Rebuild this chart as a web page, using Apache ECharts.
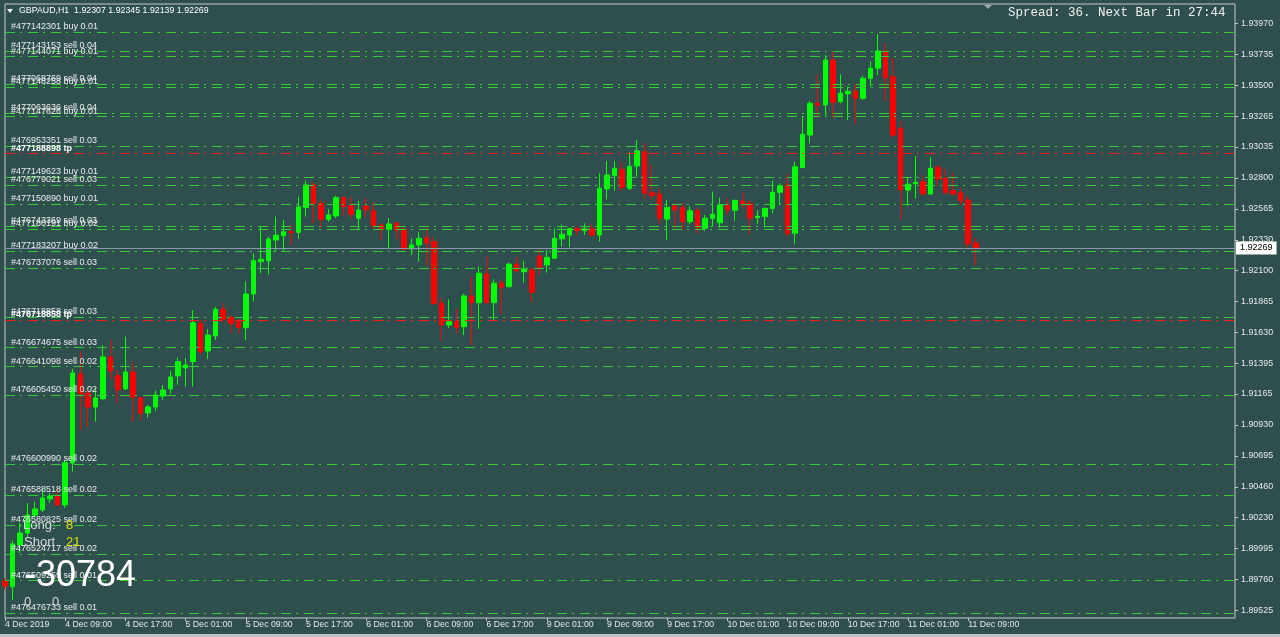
<!DOCTYPE html>
<html><head><meta charset="utf-8">
<script src="https://cdn.jsdelivr.net/npm/echarts@6/dist/echarts.min.js"></script>
<style>html,body{margin:0;padding:0;background:#2f4f4f;}#c{width:1280px;height:637px;}</style>
</head><body><div id="c"></div>
<script>
// ---------- data ----------
const symbolName = 'GBPAUD,H1';
const lastBarOHLC = ['1.92307', '1.92345', '1.92139', '1.92269'];
const spreadText = 'Spread: 36. Next Bar in 27:44';
const longCount = 8;
const shortCount = 21;
const profitText = '-30784';

const xTickBars = [0, 8, 16, 24, 32, 40, 48, 56, 64, 72, 80, 88, 96, 104, 112, 120, 128];
const xTickLabels = ['4 Dec 2019', '4 Dec 09:00', '4 Dec 17:00', '5 Dec 01:00', '5 Dec 09:00', '5 Dec 17:00',
  '6 Dec 01:00', '6 Dec 09:00', '6 Dec 17:00', '9 Dec 01:00', '9 Dec 09:00', '9 Dec 17:00',
  '10 Dec 01:00', '10 Dec 09:00', '10 Dec 17:00', '11 Dec 01:00', '11 Dec 09:00'];
const yTickLabels = ['1.93970', '1.93735', '1.93500', '1.93265', '1.93035', '1.92800', '1.92565', '1.92330',
  '1.92100', '1.91865', '1.91630', '1.91395', '1.91165', '1.90930', '1.90695', '1.90460', '1.90230',
  '1.89995', '1.89760', '1.89525'];

const open = [1.89748, 1.89704, 1.90020, 1.90111, 1.90247, 1.90285, 1.90369, 1.90391, 1.90323, 1.90641,
  1.91315, 1.91171, 1.91065, 1.91128, 1.91444, 1.91302, 1.91202, 1.91330, 1.91136, 1.91020,
  1.91065, 1.91148, 1.91202, 1.91300, 1.91360, 1.91408, 1.91698, 1.91489, 1.91603, 1.91805,
  1.91742, 1.91711, 1.91665, 1.91921, 1.92165, 1.92173, 1.92329, 1.92362, 1.92392, 1.92388,
  1.92577, 1.92746, 1.92607, 1.92486, 1.92511, 1.92650, 1.92589, 1.92494, 1.92587, 1.92549,
  1.92443, 1.92410, 1.92456, 1.92410, 1.92261, 1.92292, 1.92347, 1.92317, 1.91850, 1.91686,
  1.91711, 1.91673, 1.91906, 1.91855, 1.92072, 1.91855, 1.92002, 1.91976, 1.92146, 1.92089,
  1.92102, 1.92208, 1.92140, 1.92191, 1.92339, 1.92367, 1.92415, 1.92400, 1.92415, 1.92367,
  1.92716, 1.92816, 1.92864, 1.92721, 1.92890, 1.92998, 1.92687, 1.92678, 1.92488, 1.92587,
  1.92574, 1.92468, 1.92551, 1.92418, 1.92494, 1.92460, 1.92594, 1.92554, 1.92625, 1.92607,
  1.92498, 1.92506, 1.92569, 1.92690, 1.92746, 1.92380, 1.92877, 1.93124, 1.93364, 1.93351,
  1.93692, 1.93376, 1.93437, 1.93455, 1.93402, 1.93554, 1.93630, 1.93760, 1.93565, 1.93175,
  1.92708, 1.92756, 1.92771, 1.92678, 1.92880, 1.92797, 1.92703, 1.92687, 1.92632, 1.92307];
const high = [1.89770, 1.90053, 1.90187, 1.90338, 1.90346, 1.90452, 1.90414, 1.90452, 1.90664, 1.91353,
  1.91484, 1.91194, 1.91209, 1.91534, 1.91572, 1.91345, 1.91597, 1.91408, 1.91143, 1.91080,
  1.91189, 1.91232, 1.91338, 1.91438, 1.91436, 1.91799, 1.91724, 1.91656, 1.91824, 1.91850,
  1.91762, 1.91732, 1.92014, 1.92229, 1.92435, 1.92354, 1.92506, 1.92481, 1.92443, 1.92657,
  1.92778, 1.92768, 1.92637, 1.92564, 1.92665, 1.92662, 1.92657, 1.92625, 1.92645, 1.92619,
  1.92458, 1.92494, 1.92468, 1.92425, 1.92342, 1.92392, 1.92425, 1.92354, 1.91888, 1.91880,
  1.91807, 1.91921, 1.92047, 1.92127, 1.92208, 1.92032, 1.92027, 1.92158, 1.92203, 1.92173,
  1.92117, 1.92254, 1.92254, 1.92418, 1.92448, 1.92420, 1.92430, 1.92456, 1.92450, 1.92834,
  1.92927, 1.92927, 1.92922, 1.92993, 1.93086, 1.93061, 1.92897, 1.92721, 1.92632, 1.92609,
  1.92609, 1.92587, 1.92572, 1.92519, 1.92695, 1.92650, 1.92645, 1.92632, 1.92690, 1.92632,
  1.92556, 1.92574, 1.92778, 1.92759, 1.92827, 1.92922, 1.93268, 1.93382, 1.93584, 1.93730,
  1.93755, 1.93584, 1.93490, 1.93508, 1.93573, 1.93680, 1.93889, 1.93818, 1.93705, 1.93230,
  1.92804, 1.92965, 1.92821, 1.92956, 1.92897, 1.92867, 1.92839, 1.92721, 1.92662, 1.92345];
const low = [1.89680, 1.89604, 1.89960, 1.90081, 1.90225, 1.90270, 1.90338, 1.90315, 1.90300, 1.90575,
  1.90891, 1.90914, 1.90954, 1.91118, 1.91277, 1.91098, 1.91194, 1.90954, 1.90967, 1.90982,
  1.91035, 1.91118, 1.91164, 1.91232, 1.91219, 1.91219, 1.91459, 1.91429, 1.91572, 1.91709,
  1.91625, 1.91623, 1.91572, 1.91862, 1.92077, 1.92070, 1.92241, 1.92241, 1.92292, 1.92342,
  1.92506, 1.92456, 1.92418, 1.92468, 1.92496, 1.92511, 1.92486, 1.92405, 1.92501, 1.92410,
  1.92329, 1.92267, 1.92335, 1.92254, 1.92216, 1.92165, 1.92140, 1.91837, 1.91567, 1.91661,
  1.91623, 1.91610, 1.91534, 1.91656, 1.91845, 1.91724, 1.91769, 1.91970, 1.92087, 1.92006,
  1.91862, 1.92065, 1.92082, 1.92186, 1.92279, 1.92274, 1.92367, 1.92367, 1.92354, 1.92317,
  1.92637, 1.92703, 1.92700, 1.92708, 1.92809, 1.92640, 1.92632, 1.92448, 1.92329, 1.92418,
  1.92405, 1.92450, 1.92380, 1.92398, 1.92430, 1.92423, 1.92519, 1.92475, 1.92569, 1.92373,
  1.92450, 1.92423, 1.92532, 1.92594, 1.92354, 1.92297, 1.92875, 1.93061, 1.93258, 1.93268,
  1.93255, 1.93364, 1.93238, 1.93208, 1.93389, 1.93490, 1.93578, 1.93382, 1.93104, 1.92481,
  1.92589, 1.92645, 1.92670, 1.92670, 1.92740, 1.92675, 1.92670, 1.92594, 1.92271, 1.92139];
const close = [1.89710, 1.90028, 1.90111, 1.90247, 1.90293, 1.90376, 1.90391, 1.90323, 1.90643, 1.91323,
  1.91164, 1.91065, 1.91133, 1.91444, 1.91338, 1.91194, 1.91330, 1.91141, 1.91017, 1.91065,
  1.91156, 1.91194, 1.91292, 1.91408, 1.91383, 1.91703, 1.91484, 1.91610, 1.91805, 1.91729,
  1.91698, 1.91666, 1.91921, 1.92173, 1.92183, 1.92337, 1.92365, 1.92392, 1.92385, 1.92581,
  1.92746, 1.92607, 1.92486, 1.92519, 1.92650, 1.92582, 1.92524, 1.92556, 1.92556, 1.92438,
  1.92410, 1.92450, 1.92405, 1.92259, 1.92292, 1.92342, 1.92304, 1.91850, 1.91686, 1.91711,
  1.91668, 1.91906, 1.91855, 1.92077, 1.91855, 1.92002, 1.91971, 1.92146, 1.92097, 1.92110,
  1.91933, 1.92123, 1.92198, 1.92342, 1.92373, 1.92415, 1.92400, 1.92415, 1.92367, 1.92721,
  1.92821, 1.92872, 1.92728, 1.92887, 1.93005, 1.92683, 1.92666, 1.92494, 1.92577, 1.92556,
  1.92468, 1.92551, 1.92423, 1.92494, 1.92524, 1.92594, 1.92556, 1.92630, 1.92600, 1.92494,
  1.92509, 1.92569, 1.92690, 1.92740, 1.92380, 1.92884, 1.93130, 1.93364, 1.93351, 1.93692,
  1.93372, 1.93440, 1.93455, 1.93402, 1.93554, 1.93630, 1.93760, 1.93558, 1.93124, 1.92708,
  1.92751, 1.92766, 1.92678, 1.92872, 1.92789, 1.92690, 1.92678, 1.92627, 1.92299, 1.92269];

const orderLabels = ['#477142301 buy 0.01', '#477143153 sell 0.04', '#477144071 buy 0.01',
  '#477068769 sell 0.04', '#477148258 buy 0.01', '#477063636 sell 0.04', '#477147626 buy 0.01',
  '#476953351 sell 0.03', '#477188898 tp', '#477149623 buy 0.01', '#476779021 sell 0.03',
  '#477150890 buy 0.01', '#476743369 sell 0.03', '#477180191 buy 0.02', '#477183207 buy 0.02',
  '#476737076 sell 0.03', '#476718858 sell 0.03', '#476718858 tp', '#476674675 sell 0.03',
  '#476641098 sell 0.02', '#476605450 sell 0.02', '#476600990 sell 0.02', '#476588518 sell 0.02',
  '#476580825 sell 0.02', '#476524717 sell 0.02', '#476509259 sell 0.01', '#476476733 sell 0.01'];
const orderPrices = [1.93902, 1.93760, 1.93717, 1.93510, 1.93485, 1.93289, 1.93263, 1.93041, 1.92984,
  1.92804, 1.92746, 1.92602, 1.92435, 1.92410, 1.92246, 1.92115, 1.91744, 1.91721, 1.91514,
  1.91370, 1.91156, 1.90631, 1.90399, 1.90172, 1.89950, 1.89750, 1.89503];
const bidPrice = 1.92269;

// ---------- chart ----------
const candles = open.map((o, i) => [i, o, close[i], low[i], high[i]]);
const yTickValues = yTickLabels.map(parseFloat);
const FONT = 'Liberation Sans, Arial, sans-serif';

const orderLines = orderLabels.map((name, i) => {
  const isTp = / tp$/.test(name);
  return {
    yAxis: orderPrices[i],
    name: name,
    lineStyle: { color: isTp ? '#ff1a1a' : '#32cd32', type: [10, 5, 2, 6], width: 1 },
    label: {
      show: true, position: 'insideStartTop', formatter: name,
      color: isTp ? '#ffffff' : '#ececec', fontWeight: isTp ? 'bold' : 'normal',
      fontSize: 9, fontFamily: FONT, distance: [6, 1]
    }
  };
});
orderLines.push({
  yAxis: bidPrice, name: 'bid',
  lineStyle: { color: '#8a9aaa', type: 'solid', width: 1 },
  label: {
    show: true, position: 'end', formatter: bidPrice.toFixed(5),
    backgroundColor: '#ffffff', color: '#000000', padding: [2, 4, 2, 4],
    fontSize: 9, fontFamily: FONT, distance: 1
  }
});

const chart = echarts.init(document.getElementById('c'), null, { renderer: 'canvas' });
chart.setOption({
  backgroundColor: '#2f4f4f',
  animation: false,
  grid: { left: 5, right: 45, top: 4, bottom: 19, show: true, borderColor: '#c8c8c8', borderWidth: 1, backgroundColor: 'transparent' },
  xAxis: {
    type: 'value', min: 0, max: 163.45, interval: 8,
    axisLine: { show: false, onZero: false }, splitLine: { show: false },
    axisTick: { show: true, inside: false, length: 3, lineStyle: { color: '#c8c8c8' }, customValues: xTickBars },
    axisLabel: {
      color: '#e8e8e8', fontSize: 8.7, fontFamily: FONT, align: 'left', margin: 2,
      customValues: xTickBars, hideOverlap: false,
      formatter: v => { const k = xTickBars.indexOf(Math.round(v)); return k >= 0 ? xTickLabels[k] : ''; }
    }
  },
  yAxis: {
    type: 'value', position: 'right', min: 1.894674, max: 1.941161,
    axisLine: { show: false, onZero: false }, splitLine: { show: false },
    axisTick: { show: true, inside: false, length: 3, lineStyle: { color: '#c8c8c8' }, customValues: yTickValues },
    axisLabel: {
      color: '#e8e8e8', fontSize: 8.9, fontFamily: FONT, margin: 6, customValues: yTickValues, hideOverlap: false,
      formatter: v => {
        let best = 0, bd = 1;
        yTickValues.forEach((t, k) => { const d = Math.abs(t - v); if (d < bd) { bd = d; best = k; } });
        return yTickLabels[best];
      }
    }
  },
  series: [{
    type: 'candlestick', data: candles, barWidth: 5, clip: true,
    itemStyle: { color: '#00ff00', color0: '#ff0000', borderColor: '#00ff00', borderColor0: '#ff0000', borderWidth: 1 },
    markLine: { silent: true, symbol: ['none', 'none'], animation: false, precision: 5, data: orderLines }
  }],
  graphic: [
    { type: 'polygon', shape: { points: [[7, 9], [13, 9], [10, 13]] }, style: { fill: '#ffffff' }, z: 100 },
    { type: 'text', x: 19, y: 11, style: { text: symbolName + '  ' + lastBarOHLC.join(' '), fill: '#ffffff', font: '8.8px ' + FONT, textVerticalAlign: 'middle' }, z: 100 },
    { type: 'polygon', shape: { points: [[984, 5], [992, 5], [988, 9]] }, style: { fill: '#9aa8a8' }, z: 100 },
    { type: 'text', x: 1008, y: 13, style: { text: spreadText, fill: '#f0f0f0', font: '12.5px "Liberation Mono", monospace', textVerticalAlign: 'middle' }, z: 100 },
    { type: 'text', x: 23, y: 525, style: { text: 'Long:', fill: '#d8d8d8', font: '13px ' + FONT, textVerticalAlign: 'middle' }, z: 100 },
    { type: 'text', x: 66, y: 525, style: { text: String(longCount), fill: '#e0e000', font: '13px ' + FONT, textVerticalAlign: 'middle' }, z: 100 },
    { type: 'text', x: 24, y: 542, style: { text: 'Short', fill: '#d8d8d8', font: '13px ' + FONT, textVerticalAlign: 'middle' }, z: 100 },
    { type: 'text', x: 66, y: 542, style: { text: String(shortCount), fill: '#e0e000', font: '13px ' + FONT, textVerticalAlign: 'middle' }, z: 100 },
    { type: 'text', x: 24, y: 576, style: { text: profitText, fill: '#ffffff', font: '36px ' + FONT, textVerticalAlign: 'middle' }, z: 100 },
    { type: 'text', x: 24, y: 602, style: { text: '0', fill: '#d8d8d8', font: '13px ' + FONT, textVerticalAlign: 'middle' }, z: 100 },
    { type: 'text', x: 52, y: 602, style: { text: '0', fill: '#d8d8d8', font: '13px ' + FONT, textVerticalAlign: 'middle' }, z: 100 },
    { type: 'rect', shape: { x: 0, y: 634, width: 1280, height: 3 }, style: { fill: '#c0c0c0' }, z: 100 }
  ]
});
</script>
</body></html>
